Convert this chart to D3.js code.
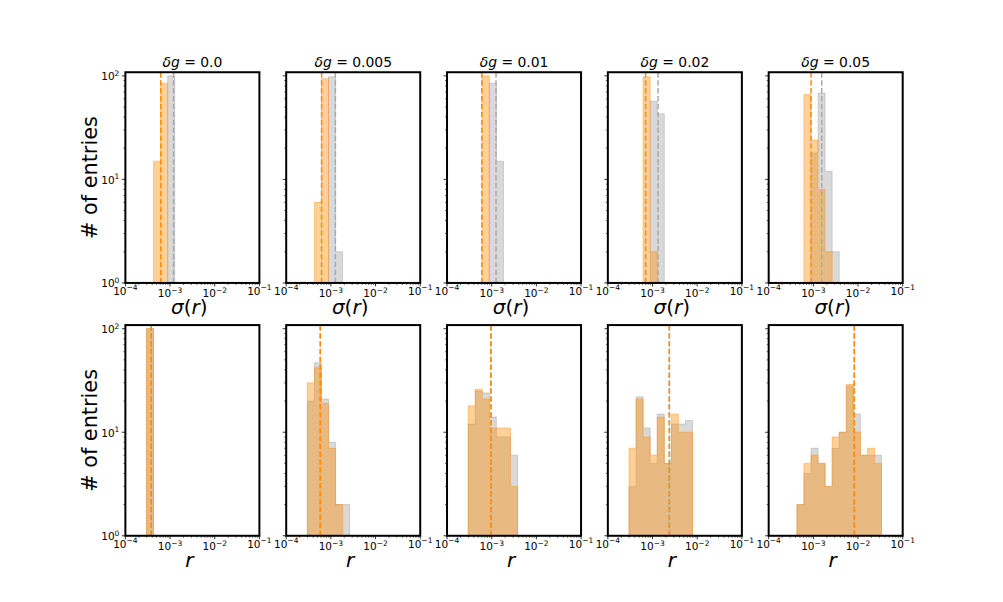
<!DOCTYPE html>
<html><head><meta charset="utf-8">
<script src="https://cdn.jsdelivr.net/npm/d3@7/dist/d3.min.js"></script>
<style>body{margin:0;background:#fff}svg{display:block}text{font-family:"DejaVu Sans",sans-serif}</style>
</head><body><svg id="c" width="1003" height="602"></svg>
<script>
// ---- data ----
const titles = ["0.0", "0.005", "0.01", "0.02", "0.05"];
// shared log bins: 20 edges from 1e-4 to 1e-1 (19 bins); arrays index = bin number
const binEdges = d3.range(20).map(k => Math.pow(10, -4 + k * 3 / 19));
// top row: sigma(r)
const sigmaGray = [
  [0,0,0,0,0,0,100],
  [0,0,0,0,0,0,98,2],
  [0,0,0,0,0,0,85,15],
  [0,0,0,0,0,0,57,43],
  [0,0,0,0,0,0,18,68,12,2]
];
const sigmaOrange = [
  [0,0,0,0,15,85],
  [0,0,0,0,6,94],
  [0,0,0,0,0,100],
  [0,0,0,0,0,98,2],
  [0,0,0,0,0,66,24,8,2]
];
const sigmaLineGray = [1.20e-3, 1.26e-3, 1.25e-3, 1.33e-3, 1.54e-3];
const sigmaLineOrange = [6.2e-4, 6.2e-4, 6.0e-4, 7.0e-4, 8.9e-4];
// bottom row: r
const rGray = [
  [0,0,0,100],
  [0,0,0,20,47,21,8,2,2],
  [0,0,0,12,25,24,14,9,9,6],
  [0,0,0,3,22,11,5,15,5,12,12,13],
  [0,0,0,0,2,4,7,5,3,7,10,28,15,6,6,6]
];
const rOrange = [
  [0,0,0,100],
  [0,0,0,30,42,19,7,2],
  [0,0,0,18,26,21,11,11,11,3],
  [0,0,0,7,21,9,6,14,5,15,10,10],
  [0,0,0,0,2,5,6,5,3,9,10,29,10,6,7,5]
];
const rLineGray = [3.8e-4, 5.8e-4, 9.6e-4, 2.38e-3, 8.26e-3];
const rLineOrange = [3.8e-4, 5.8e-4, 9.6e-4, 2.38e-3, 8.26e-3];
const xTicks = [1e-4, 1e-3, 1e-2, 1e-1];
const xTickExp = ["−4", "−3", "−2", "−1"];
const yTicks = [1, 10, 100];
const yTickExp = ["0", "1", "2"];

// ---- layout ----
const W = 1003, H = 602;
const L = 0.125 * W, R = 0.9 * W, T = (1 - 0.88) * H, B = (1 - 0.11) * H;
const ws = 0.2, hs = 0.2;
const pw = (R - L) / (5 + 4 * ws), ph = (B - T) / (2 + hs);
const svg = d3.select("#c");
const orange = "#ff8c00", grayC = "#808080";

const x = d3.scaleLog().domain([1e-4, 1e-1]).range([0, pw]);
const y = d3.scaleLog().domain([1, Math.pow(10, 2.035)]).range([ph, 0]);

function minorTicks(lo, hi) {
  const out = [];
  for (let e = lo; e < hi; e++) for (let m = 2; m <= 9; m++) out.push(m * Math.pow(10, e));
  return out;
}
const xMinor = minorTicks(-4, -1);
const yMinor = minorTicks(0, 2);

function stepPath(counts) {
  let first = counts.findIndex(c => c > 0);
  let last = counts.length - 1;
  while (last > 0 && counts[last] === 0) last--;
  const pts = [[x(binEdges[first]), ph]];
  for (let i = first; i <= last; i++) {
    const yy = counts[i] > 0 ? y(counts[i]) : ph;
    pts.push([x(binEdges[i]), yy], [x(binEdges[i + 1]), yy]);
  }
  pts.push([x(binEdges[last + 1]), ph]);
  return d3.line()(pts) + "Z";
}

const rows = [
  {gray: sigmaGray, orange: sigmaOrange, lg: sigmaLineGray, lo: sigmaLineOrange, label: "sigma"},
  {gray: rGray, orange: rOrange, lg: rLineGray, lo: rLineOrange, label: "r"}
];

rows.forEach((row, ri) => {
  for (let ci = 0; ci < 5; ci++) {
    const ox = L + ci * pw * (1 + ws), oy = T + ri * ph * (1 + hs);
    const g = svg.append("g").attr("transform", `translate(${ox},${oy})`);
    const cid = `clip${ri}_${ci}`;
    g.append("clipPath").attr("id", cid).append("rect").attr("width", pw).attr("height", ph);
    const pg = g.append("g").attr("clip-path", `url(#${cid})`);
    pg.append("path").attr("d", stepPath(row.gray[ci]))
      .attr("fill", grayC).attr("fill-opacity", 0.3)
      .attr("stroke", grayC).attr("stroke-opacity", 0.3).attr("stroke-width", 1);
    pg.append("path").attr("d", stepPath(row.orange[ci]))
      .attr("fill", orange).attr("fill-opacity", 0.4)
      .attr("stroke", orange).attr("stroke-opacity", 0.4).attr("stroke-width", 1);
    pg.append("line").attr("x1", x(row.lg[ci])).attr("x2", x(row.lg[ci]))
      .attr("y1", 0).attr("y2", ph).attr("stroke", "#a9a9a9").attr("stroke-width", 1.5)
      .attr("stroke-dasharray", "5.5,2.4");
    pg.append("line").attr("x1", x(row.lo[ci])).attr("x2", x(row.lo[ci]))
      .attr("y1", 0).attr("y2", ph).attr("stroke", orange).attr("stroke-width", 1.5)
      .attr("stroke-dasharray", "5.5,2.4");

    // ticks
    const tk = g.append("g").attr("stroke", "#000");
    xTicks.forEach(v => tk.append("line").attr("x1", x(v)).attr("x2", x(v)).attr("y1", ph).attr("y2", ph + 3.5).attr("stroke-width", 0.8));
    xMinor.forEach(v => tk.append("line").attr("x1", x(v)).attr("x2", x(v)).attr("y1", ph).attr("y2", ph + 2).attr("stroke-width", 0.6));
    yTicks.forEach(v => tk.append("line").attr("y1", y(v)).attr("y2", y(v)).attr("x1", 0).attr("x2", -3.5).attr("stroke-width", 0.8));
    yMinor.forEach(v => tk.append("line").attr("y1", y(v)).attr("y2", y(v)).attr("x1", 0).attr("x2", -2).attr("stroke-width", 0.6));

    // x tick labels
    xTicks.forEach((v, i) => {
      const edge = (i === 0 || i === xTicks.length - 1);
      const t = g.append("text").attr("x", x(v)).attr("y", ph + (edge ? 12 : 14.5))
        .attr("text-anchor", "middle").attr("font-size", 10.5).attr("fill", "#000");
      t.append("tspan").text("10");
      t.append("tspan").attr("dy", -4.5).attr("font-size", 7.5).text(xTickExp[i]);
    });
    if (ci === 0) {
      yTicks.forEach((v, i) => {
        const t = g.append("text").attr("x", -6).attr("y", y(v) + 4.5)
          .attr("text-anchor", "end").attr("font-size", 10.5).attr("fill", "#000");
        t.append("tspan").text("10");
        t.append("tspan").attr("dy", -4.5).attr("font-size", 7.5).text(yTickExp[i]);
      });
      g.append("text").attr("transform", `translate(${-28},${ph / 2}) rotate(-90)`)
        .attr("text-anchor", "middle").attr("font-size", 20.8).text("# of entries");
    }
    // frame
    g.append("rect").attr("width", pw).attr("height", ph).attr("fill", "none")
      .attr("stroke", "#000").attr("stroke-width", 2);

    // xlabel
    const xl = g.append("text").attr("x", pw / 2 - 3).attr("y", ph + 31)
      .attr("text-anchor", "middle").attr("font-size", 20);
    if (row.label === "sigma") {
      xl.append("tspan").attr("font-style", "italic").text("σ");
      xl.append("tspan").text("(");
      xl.append("tspan").attr("font-style", "italic").text("r");
      xl.append("tspan").text(")");
    } else {
      xl.append("tspan").attr("font-style", "italic").text("r");
    }
    // title
    if (ri === 0) {
      const tt = g.append("text").attr("x", pw / 2).attr("y", -5.5)
        .attr("text-anchor", "middle").attr("font-size", 13.9);
      tt.append("tspan").attr("font-style", "italic").text("δg");
      tt.append("tspan").text(" = " + titles[ci]);
    }
  }
});
</script></body></html>
